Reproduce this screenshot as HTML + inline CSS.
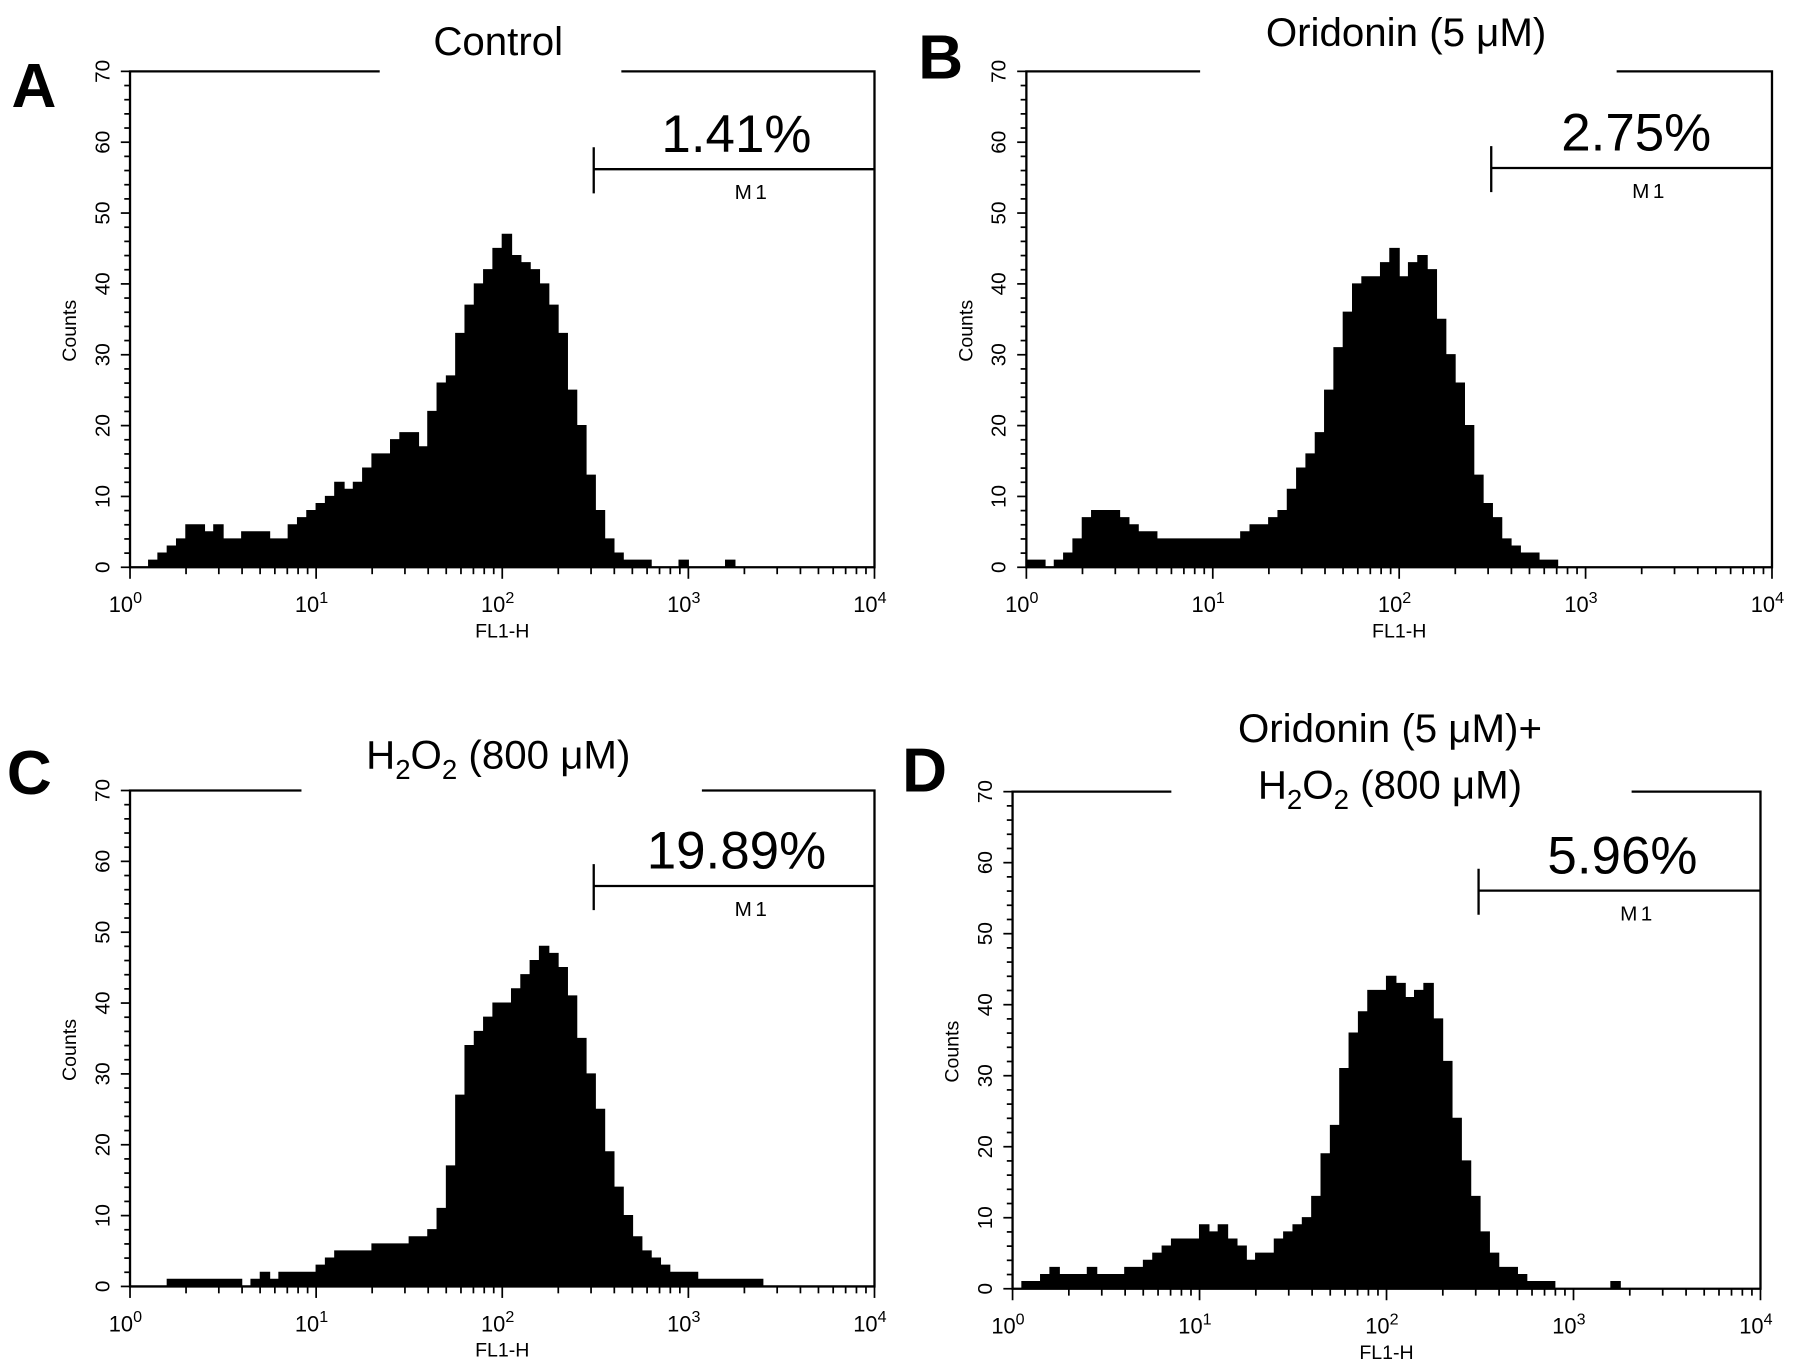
<!DOCTYPE html>
<html><head><meta charset="utf-8"><style>
html,body{margin:0;padding:0;background:#fff}
svg{display:block}
text{font-family:"Liberation Sans",Arial,sans-serif;fill:#000}
</style></head><body>
<svg id="fig" width="1795" height="1367" viewBox="0 0 1560 1188" xmlns="http://www.w3.org/2000/svg"></svg>
<script>
// Histogram counts, 20 bins per decade, log10 FL1-H from 0 to 4
const countsA = [0,0,1,2,3,4,6,6,5,6,4,4,5,5,5,4,4,6,7,8,
 9,10,12,11,12,14,16,16,18,19,19,17,22,26,27,33,37,40,42,45,
 47,44,43,42,40,37,33,25,20,13,8,4,2,1,1,1,0,0,0,1,
 0,0,0,0,1,0,0,0,0,0,0,0,0,0,0,0,0,0,0,0];
const countsB = [1,1,0,1,2,4,7,8,8,8,7,6,5,5,4,4,4,4,4,4,
 4,4,4,5,6,6,7,8,11,14,16,19,25,31,36,40,41,41,43,45,
 41,43,44,42,35,30,26,20,13,9,7,4,3,2,2,1,1,0,0,0,
 0,0,0,0,0,0,0,0,0,0,0,0,0,0,0,0,0,0,0,0];
const countsC = [0,0,0,0,1,1,1,1,1,1,1,1,0,1,2,1,2,2,2,2,
 3,4,5,5,5,5,6,6,6,6,7,7,8,11,17,27,34,36,38,40,
 40,42,44,46,48,47,45,41,35,30,25,19,14,10,7,5,4,3,2,2,
 2,1,1,1,1,1,1,1,0,0,0,0,0,0,0,0,0,0,0,0];
const countsD = [0,1,1,2,3,2,2,2,3,2,2,2,3,3,4,5,6,7,7,7,
 9,8,9,7,6,4,5,5,7,8,9,10,13,19,23,31,36,39,42,42,
 44,43,41,42,43,38,32,24,18,13,8,5,3,3,2,1,1,1,0,0,
 0,0,0,0,1,0,0,0,0,0,0,0,0,0,0,0,0,0,0,0];
const percents = ["1.41%","2.75%","19.89%","5.96%"];
const yTicks = [0,10,20,30,40,50,60,70];
const xTickExps = [0,1,2,3,4];

const NS="http://www.w3.org/2000/svg";
const svg=document.getElementById('fig');
function mk(tag,attrs,parent){const e=document.createElementNS(NS,tag);for(const k in attrs)e.setAttribute(k,attrs[k]);(parent||svg).appendChild(e);return e;}

const panels=[
 {id:'a',letter:'A',lx:10,ly:93,L:113,R:760,T:62,B:493,title:['Control'],ty:[48],tx:433,gap:[330,540],mx:516,my:147,px:640,counts:countsA,pct:percents[0]},
 {id:'b',letter:'B',lx:798,ly:68,L:892,R:1540,T:62,B:493,title:['Oridonin (5 μM)'],ty:[40],tx:1222,gap:[1043,1405],mx:1296,my:146,px:1422,counts:countsB,pct:percents[1]},
 {id:'c',letter:'C',lx:6,ly:690,L:113,R:760,T:687,B:1118,title:['H2O2'],ty:[668],tx:433,gap:[262,610],mx:516,my:770,px:640,counts:countsC,pct:percents[2]},
 {id:'d',letter:'D',lx:784,ly:688,L:880,R:1530,T:688,B:1120,title:['Oridonin (5 μM)+','H2O2'],ty:[645,694],tx:1208,gap:[1018,1418],mx:1285,my:774,px:1410,counts:countsD,pct:percents[3]}
];

panels.forEach(p=>{
 const g=mk('g',{});
 
 
 const xs=v=>p.L+(p.R-p.L)*v/4;
 const ys=c=>p.B-(p.B-p.T)*c/70;
 let d='M'+xs(0)+','+ys(0);
 const n=p.counts.length, w=4/n;
 p.counts.forEach((c,i)=>{d+=' L'+xs(i*w)+','+ys(c)+' L'+xs((i+1)*w)+','+ys(c);});
 d+=' L'+xs(4)+','+ys(0)+' Z';
 const h=mk('path',{d:d,fill:'#000',stroke:'#000','stroke-width':1},g);
 
 
 const fr=mk('path',{d:`M${p.gap[0]},${p.T} L${p.L},${p.T} L${p.L},${p.B} L${p.R},${p.B} L${p.R},${p.T} L${p.gap[1]},${p.T}`,fill:'none',stroke:'#000','stroke-width':2},g);
 
 
 for(let c=0;c<=70;c+=2){mk('line',{x1:p.L-(c%10===0?8:5),x2:p.L,y1:ys(c),y2:ys(c),stroke:'#000','stroke-width':1.5},g);}
 yTicks.forEach(c=>{
  const t=mk('text',{x:0,y:0,'font-size':18,'text-anchor':'middle',transform:`translate(${p.L-18},${ys(c)}) rotate(-90)`},g);
  t.textContent=c;
  
  
 });
 const yl=mk('text',{'font-size':17,'text-anchor':'middle',transform:`translate(${p.L-47},${(p.T+p.B)/2+10}) rotate(-90)`},g);
 yl.textContent='Counts';
 
 
 for(let e=0;e<4;e++){for(let m=1;m<10;m++){const x=xs(e+Math.log10(m));mk('line',{x1:x,x2:x,y1:p.B,y2:p.B+(m===1?10:6),stroke:'#000','stroke-width':1.5},g);}}
 mk('line',{x1:xs(4),x2:xs(4),y1:p.B,y2:p.B+10,stroke:'#000','stroke-width':1.5},g);
 xTickExps.forEach(e=>{
  const t=mk('text',{x:xs(e)-4,y:p.B+39,'font-size':19,'text-anchor':'middle'},g);
  
  
  t.appendChild(document.createTextNode('10'));
  const s=mk('tspan',{'font-size':14,dy:-8},t);s.textContent=e;
 });
 const xl=mk('text',{x:(p.L+p.R)/2,y:p.B+61,'font-size':17,'text-anchor':'middle'},g);
 xl.textContent='FL1-H';
 
 
 const mm=mk('path',{d:`M${p.mx},${p.my-19} L${p.mx},${p.my+21} M${p.mx},${p.my} L${p.R},${p.my}`,fill:'none',stroke:'#000','stroke-width':2},g);
 
 
 const ml=mk('text',{x:(p.mx+p.R)/2+16,y:p.my+26,'font-size':18,'text-anchor':'middle','letter-spacing':3},g);
 ml.textContent='M1';
 
 
 const pt=mk('text',{x:p.px,y:p.my-15,'font-size':46,'text-anchor':'middle'},g);
 pt.textContent=p.pct;
 
 
 p.title.forEach((line,i)=>{
  const t=mk('text',{x:p.tx,y:p.ty[i],'font-size':35,'text-anchor':'middle'},g);
  
  
  if(line==='H2O2'){
   t.appendChild(document.createTextNode('H'));
   let s=mk('tspan',{'font-size':24,dy:9},t);s.textContent='2';
   s=mk('tspan',{dy:-9},t);s.textContent='O';
   s=mk('tspan',{'font-size':24,dy:9},t);s.textContent='2';
   s=mk('tspan',{dy:-9},t);s.textContent=' (800 μM)';
  } else t.textContent=line;
 });
 const lt=mk('text',{x:p.lx,y:p.ly,'font-size':54,'font-weight':'bold'},g);
 lt.textContent=p.letter;
 
 
});
</script>
</body></html>
